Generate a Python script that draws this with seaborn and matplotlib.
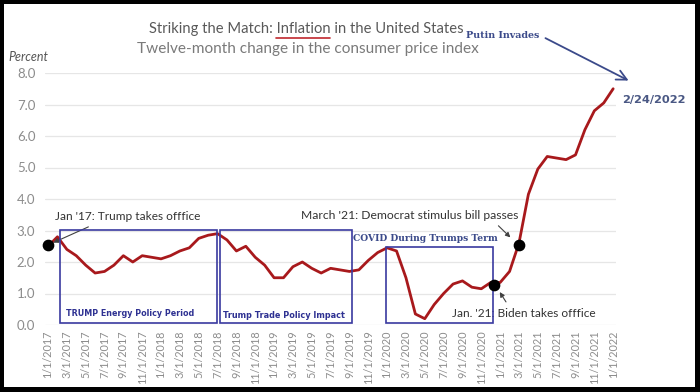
import matplotlib
matplotlib.use("Agg")
import matplotlib.pyplot as plt
from matplotlib.patches import Rectangle
import numpy as np
import pandas as pd
import seaborn as sns

# twelve-month CPI change, monthly, Jan 2017 .. Jan 2022
cpi_2017 = [2.5, 2.8, 2.4, 2.2, 1.9, 1.65, 1.7, 1.9, 2.2, 2.0, 2.2, 2.15]
cpi_2018 = [2.1, 2.2, 2.35, 2.45, 2.75, 2.85, 2.9, 2.7, 2.35, 2.5, 2.15, 1.9]
cpi_2019 = [1.5, 1.5, 1.85, 2.0, 1.8, 1.65, 1.8, 1.75, 1.7, 1.75, 2.05, 2.3]
cpi_2020 = [2.45, 2.35, 1.5, 0.35, 0.2, 0.65, 1.0, 1.3, 1.4, 1.2, 1.15, 1.35]
cpi_2021 = [1.35, 1.7, 2.6, 4.15, 4.95, 5.35, 5.3, 5.25, 5.4, 6.2, 6.8, 7.05]
cpi_2022 = [7.5]

cpi = cpi_2017 + cpi_2018 + cpi_2019 + cpi_2020 + cpi_2021 + cpi_2022
months = pd.date_range("2017-01-01", periods=len(cpi), freq="MS")
tick_labels = [f"{d.month}/1/{d.year}" for d in months[::2]]
y_ticks = [0, 1, 2, 3, 4, 5, 6, 7, 8]

# policy periods: label, start / end (month index), top value
box_labels = ["TRUMP Energy Policy Period", "Trump Trade Policy Impact",
              "COVID During Trumps Term"]
box_start = [1.3, 18.3, 35.9]
box_end = [17.9, 32.3, 47.2]
box_top = [3.02, 3.02, 2.48]

event_idx = [0, 47, 50]

df = pd.DataFrame({"m": np.arange(len(cpi)), "cpi": cpi})

RED = "#a8191c"
NAVY = "#3a3aa0"
BODY = ["Lato", "DejaVu Sans"]

sns.set_theme(style="white")
plt.rcParams["font.family"] = BODY

fig = plt.figure(figsize=(7, 3.92), dpi=100)
fig.patch.set_facecolor("black")
fig.add_artist(Rectangle((4 / 700, 5 / 392), 691 / 700, 383 / 392,
                         transform=fig.transFigure, facecolor="white",
                         edgecolor="none", zorder=0))

ax = fig.add_axes([45 / 700, 1 - 325 / 392, 571 / 700, 252 / 392])
ax.set_facecolor("none")
sns.lineplot(data=df, x="m", y="cpi", color=RED, lw=2.0, ax=ax, zorder=3)

ax.set_xlim(-0.32, 60.3)
ax.set_ylim(0, 8)
ax.set_yticks(y_ticks)
ax.set_yticklabels([f"{v:.1f}" for v in y_ticks], color="#8c8c8c", fontsize=9.5)
ax.set_xticks(np.arange(0, len(cpi), 2))
ax.set_xticklabels(tick_labels, rotation=90, color="#8c8c8c", fontsize=7.8)
ax.tick_params(axis="y", length=0, pad=7)
ax.tick_params(axis="x", length=0, pad=4)
ax.grid(axis="y", color="#e6e6e6", lw=0.9)
for s in ax.spines.values():
    s.set_visible(False)
ax.set_xlabel("")
ax.set_ylabel("")

# policy boxes
for x0, x1, top in zip(box_start, box_end, box_top):
    ax.add_patch(Rectangle((x0, 0.06), x1 - x0, top - 0.06, fill=False,
                           edgecolor=NAVY, lw=1.2, zorder=4, clip_on=False))
ax.text(box_start[0] + 0.6, 0.38, box_labels[0], color="#2e3192",
        fontsize=5.8, fontweight="bold", family="DejaVu Sans", va="center")
ax.text(box_start[1] + 0.3, 0.29, box_labels[1], color="#2e3192",
        fontsize=5.9, fontweight="bold", family="DejaVu Sans", va="center")
ax.text(box_start[2] - 3.5, 2.76, box_labels[2], color="#3b4a8a",
        fontsize=6.6, fontweight="bold", family="DejaVu Serif", va="center")

# event dots
ax.scatter([event_idx[0], event_idx[1] + 0.3, event_idx[2]],
           [cpi[event_idx[0]] + 0.05, cpi[event_idx[1]] - 0.08, cpi[event_idx[2]] - 0.05],
           s=55, color="black", zorder=6, clip_on=False)

arrow_kw = dict(arrowstyle="-|>", color="#404040", lw=0.8, mutation_scale=7)
ax.annotate("Jan '17: Trump takes offfice", xy=(0.3, 2.58), xytext=(0.7, 3.43),
            fontsize=8.6, color="#333333", va="center", ha="left",
            arrowprops=dict(arrow_kw, relpos=(0.3, 0)))
ax.annotate("March '21: Democrat stimulus bill passes", xy=(49.3, 2.72),
            xytext=(49.9, 3.49), fontsize=8.7, color="#333333",
            va="center", ha="right",
            arrowprops=dict(arrow_kw, relpos=(0.885, 0)))
ax.annotate("Jan. '21: Biden takes offfice", xy=(47.8, 1.12),
            xytext=(42.9, 0.38), fontsize=8.6, color="#333333",
            va="center", ha="left",
            arrowprops=dict(arrow_kw, relpos=(0.4, 1)))

# Putin invades
ax.annotate("Putin Invades", xy=(61.9, 7.72), xytext=(52.2, 9.2),
            fontsize=6.8, fontweight="bold", family="DejaVu Serif",
            color="#3b4a8a", va="center", ha="right",
            annotation_clip=False,
            arrowprops=dict(arrowstyle="->", color="#3b4a8a", lw=1.3,
                            mutation_scale=18, relpos=(1, 0.5)))
ax.text(61.0, 7.14, "2/24/2022", fontsize=8.2, fontweight="bold",
        family="DejaVu Sans", color="#4a5884", va="center", clip_on=False)

# titles
ax.text(-4.2, 8.52, "Percent", fontsize=9, style="italic", color="#555555",
        ha="left", va="center", clip_on=False)
title = "Striking the Match: Inflation in the United States"
TSIZE = 10.6
t = fig.text(306 / 700, 1 - 29 / 392, title, ha="center", va="center",
             fontsize=TSIZE, color="#595959")
fig.text(308 / 700, 1 - 49 / 392, "Twelve-month change in the consumer price index",
         ha="center", va="center", fontsize=11.1, color="#7a7a7a")

# red underline under "Inflation"
fig.canvas.draw()
r = fig.canvas.get_renderer()
full = t.get_window_extent(r)
pre = fig.text(0, 0, "Striking the Match: ", fontsize=TSIZE)
word = fig.text(0, 0, "Inflation", fontsize=TSIZE)
w_pre = pre.get_window_extent(r).width
w_word = word.get_window_extent(r).width
pre.remove()
word.remove()
x0 = (full.x0 + w_pre) / fig.bbox.width
x1 = (full.x0 + w_pre + w_word) / fig.bbox.width
fig.add_artist(plt.Line2D([x0, x1], [1 - 38 / 392] * 2, color="#c0282d",
                          lw=1.2, transform=fig.transFigure))

fig.savefig("out.png", dpi=100, facecolor=fig.get_facecolor())
